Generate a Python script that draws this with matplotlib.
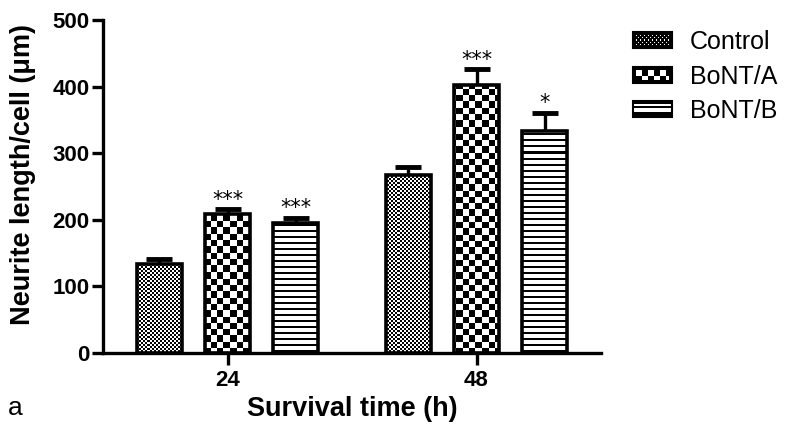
import numpy as np
import matplotlib
matplotlib.use("Agg")
import matplotlib.pyplot as plt
from matplotlib.patches import Rectangle
from matplotlib.legend_handler import HandlerBase
from matplotlib.image import BboxImage
from matplotlib.transforms import Bbox, TransformedBbox

plt.rcParams['font.family'] = ['Liberation Sans', 'DejaVu Sans']

# données
groupes = ['24', '48']
series = ['Control', 'BoNT/A', 'BoNT/B']
valeurs = {
    'Control': [133, 267],
    'BoNT/A': [209, 403],
    'BoNT/B': [195, 334],
}
erreurs = {
    'Control': [8, 12],
    'BoNT/A': [7, 23],
    'BoNT/B': [8, 27],
}
etoiles = {
    'Control': ['', ''],
    'BoNT/A': ['***', '***'],
    'BoNT/B': ['***', '*'],
}
motifs = {'Control': 'fin', 'BoNT/A': 'damier', 'BoNT/B': 'lignes'}


def motif(kind, h, w):
    # 1 = blanc, 0 = noir
    ii, jj = np.mgrid[0:h, 0:w]
    if kind == 'fin':
        return ((ii // 2 + jj // 2) % 2).astype(float)
    if kind == 'damier':
        return ((np.floor(ii / 6.3) + np.floor(jj / 6.3)) % 2).astype(float)
    return (ii % 6 >= 2).astype(float)


def motif_legende(kind, h, w):
    # version plus sombre pour les petites cases de la légende
    ii, jj = np.mgrid[0:h, 0:w]
    if kind == 'fin':
        return (((ii % 4) == 1) & ((jj % 4) == 1) | ((ii % 4) == 3) & ((jj % 4) == 3)).astype(float) * \
            ((ii > 2) & (ii < h - 3) & (jj > 2) & (jj < w - 3))
    if kind == 'damier':
        return (((np.floor((ii - 3) / 5) + np.floor((jj - 3) / 6)) % 2 == 0) &
                (ii > 2) & (ii < h - 3) & (jj > 2) & (jj < w - 3)).astype(float)
    return ((ii % 5 >= 2) & (ii > 2) & (ii < h - 3)).astype(float)


class HandlerMotif(HandlerBase):
    def __init__(self, kind):
        super().__init__()
        self.kind = kind

    def create_artists(self, legend, orig_handle, xdescent, ydescent,
                       width, height, fontsize, trans):
        bb = TransformedBbox(Bbox.from_bounds(-xdescent, -ydescent, width, height), trans)
        img = BboxImage(bb, cmap='gray', norm=matplotlib.colors.Normalize(0, 1),
                        interpolation='nearest')
        img.set_data(motif_legende(self.kind, 15, 39))
        cadre = Rectangle((-xdescent, -ydescent), width, height, fill=False,
                          edgecolor='black', lw=1.5, transform=trans)
        return [img, cadre]


fig = plt.figure(figsize=(7.85, 4.33), dpi=100)
ax = fig.add_axes([103 / 785, 1 - 353 / 433, 498 / 785, 333 / 433])

xlim = (-0.5, 1.5)
ylim = (0, 500)
W, H = 498, 333

x = np.arange(len(groupes))
decalage = 0.274
largeur = 0.181

handles = []
for k, nom in enumerate(series):
    pos = x + (k - 1) * decalage
    barres = ax.bar(pos, valeurs[nom], largeur, facecolor='none',
                    edgecolor='black', linewidth=2.6, zorder=3)
    for b in barres:
        im = ax.imshow(motif(motifs[nom], H, W), cmap='gray', vmin=0, vmax=1,
                       extent=(*xlim, *ylim), aspect='auto',
                       interpolation='nearest', zorder=2)
        im.set_clip_path(b)
    eb = ax.errorbar(pos, valeurs[nom], yerr=[np.zeros(2), erreurs[nom]],
                     fmt='none', ecolor='black', elinewidth=2.4,
                     capsize=9.7, capthick=3.5, zorder=4)
    eb[1][0].set_visible(False)
    for xi, v, e, s in zip(pos, valeurs[nom], erreurs[nom], etoiles[nom]):
        if s:
            ax.annotate(s, (xi, v + e), xytext=(0, 2.5), textcoords='offset points',
                        ha='center', va='baseline', fontsize=15,
                        family=['DejaVu Sans'])
    h = Rectangle((0, 0), 1, 1)
    handles.append(h)

ax.set_xlim(*xlim)
ax.set_ylim(*ylim)
ax.set_xticks(x)
ax.set_xticklabels(groupes)
ax.set_yticks(np.arange(0, 501, 100))
for sp in ['top', 'right']:
    ax.spines[sp].set_visible(False)
for sp in ['left', 'bottom']:
    ax.spines[sp].set_linewidth(2.4)
ax.tick_params(axis='y', length=8, width=2.4, pad=1.5, labelsize=16)
ax.tick_params(axis='x', length=8.5, width=2.4, pad=4, labelsize=16)
for lab in ax.get_xticklabels() + ax.get_yticklabels():
    lab.set_fontweight('bold')

ax.set_ylabel('Neurite length/cell (\u03bcm)', fontsize=19.5, fontweight='bold')
ax.yaxis.set_label_coords(-0.135, 0.535)
ax.set_xlabel('Survival time (h)', fontsize=19.5, fontweight='bold')
ax.xaxis.set_label_coords(0.5, -0.128)

fig.text(8 / 785, 1 - 408 / 433, 'a', fontsize=19, va='center', ha='left')

ax.legend(handles, series, handler_map={h: HandlerMotif(motifs[n]) for h, n in zip(handles, series)},
          loc='upper left', bbox_to_anchor=(633 / 785, 1 - 30 / 433),
          bbox_transform=fig.transFigure, frameon=False, fontsize=18,
          borderpad=0, handlelength=1.56, handleheight=0.6, handletextpad=0.72,
          labelspacing=0.42, borderaxespad=0)

fig.savefig('out.png', dpi=100)
